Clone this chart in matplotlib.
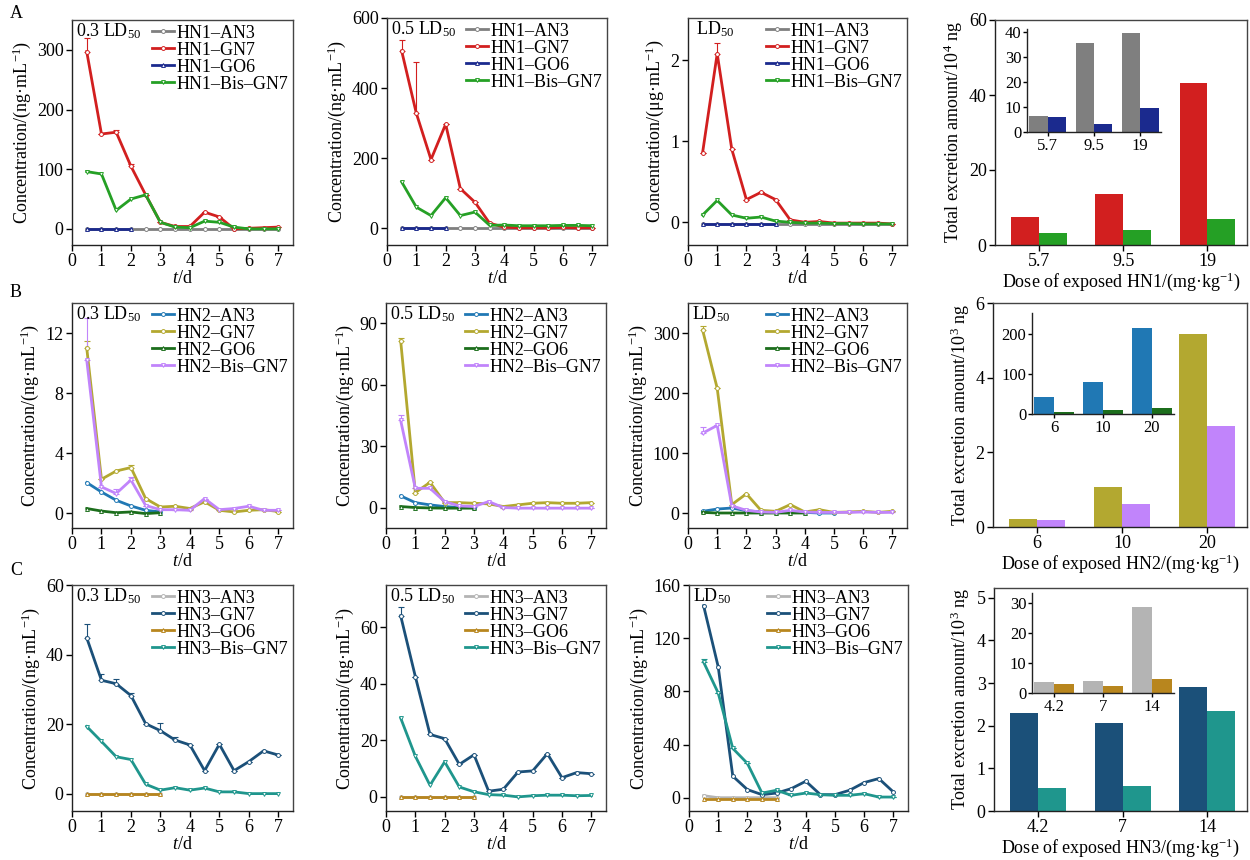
import matplotlib
matplotlib.use("Agg")
import numpy as np
import matplotlib.pyplot as plt

plt.rcParams["font.family"] = ["Liberation Serif", "DejaVu Serif"]
plt.rcParams["mathtext.fontset"] = "custom"
plt.rcParams["mathtext.rm"] = "Liberation Serif"
plt.rcParams["mathtext.it"] = "Liberation Serif:italic"
plt.rcParams["font.size"] = 13
plt.rcParams["axes.linewidth"] = 1.0
plt.rcParams["axes.edgecolor"] = "#222222"

# ---- sampling times (d) ----
T = [0.5, 1.0, 1.5, 2.0, 2.5, 3.0, 3.5, 4.0, 4.5, 5.0, 5.5, 6.0, 6.5, 7.0]

# ---- HN1 (row A) ----
a1_an3 = [0, 0, 0, 0, 0, 0, 0, 0, 0, 0, 0, 0, 0, 0]
a1_gn7 = [297, 159, 162, 105, 57, 11, 4, 4, 28, 20, 0, 1, 2, 3]
a1_gn7_err = [23, 0, 4, 3, 0, 0, 0, 0, 0, 0, 0, 0, 0, 0]
a1_go6 = [0, 0, 0, 0]
a1_bis = [96, 92, 31, 50, 57, 11, 3, 2, 13, 11, 3, 0, 0, 0]

a2_an3 = [0, 0, 0, 0, 0, 0, 0, 0, 0, 0, 0, 0, 0, 0]
a2_gn7 = [506, 328, 196, 297, 113, 74, 14, 3, 1, 1, 1, 2, 1, 1]
a2_gn7_err = [30, 146, 0, 0, 0, 0, 0, 0, 0, 0, 0, 0, 0, 0]
a2_go6 = [0, 0, 0, 0]
a2_bis = [132, 60, 36, 87, 36, 46, 8, 9, 7, 7, 7, 8, 8, 7]

a3_an3 = [-0.02, -0.02, -0.02, -0.02, -0.02, -0.02, -0.02, -0.02, -0.02, -0.02, -0.02, -0.02, -0.02, -0.02]
a3_gn7 = [0.86, 2.08, 0.90, 0.28, 0.37, 0.28, 0.03, 0.0, 0.01, -0.01, -0.01, -0.01, -0.01, -0.02]
a3_gn7_err = [0, 0.13, 0, 0, 0, 0, 0, 0, 0, 0, 0, 0, 0, 0]
a3_go6 = [-0.025, -0.025, -0.025, -0.025, -0.025, -0.025]
a3_bis = [0.09, 0.27, 0.09, 0.05, 0.065, 0.015, 0.0, -0.01, -0.01, -0.015, -0.015, -0.02, -0.02, -0.02]

hn1_doses = ["5.7", "9.5", "19"]
hn1_gn7_tot = [7.5, 13.6, 43.3]
hn1_bis_tot = [3.2, 4.0, 6.9]
hn1_an3_tot = [6.4, 35.6, 39.6]
hn1_go6_tot = [6.0, 3.2, 9.6]

# ---- HN2 (row B) ----
b1_an3 = [2.03, 1.4, 0.85, 0.47, 0.18, 0.07]
b1_gn7 = [11.0, 2.25, 2.8, 3.03, 0.96, 0.4, 0.45, 0.3, 0.75, 0.18, 0.07, 0.18, 0.22, 0.1]
b1_gn7_err = [0.5, 0, 0, 0.2, 0, 0, 0, 0, 0, 0, 0, 0, 0, 0]
b1_go6 = [0.3, 0.13, 0.02, 0.07, -0.04, 0.02]
b1_bis = [10.2, 1.74, 1.3, 2.2, 0.5, 0.22, 0.22, 0.18, 0.96, 0.22, 0.3, 0.45, 0.18, 0.18]
b1_bis_err = [2.8, 0, 0.3, 0.2, 0, 0, 0, 0, 0, 0, 0, 0, 0, 0]

b2_an3 = [5.7, 2.4, 1.3, 0.5, 0.0, 0.0]
b2_gn7 = [81.5, 7.3, 12.3, 2.4, 2.4, 2.1, 1.8, 0.5, 1.3, 2.1, 2.4, 2.1, 2.1, 2.4]
b2_gn7_err = [1.5, 0, 0, 0, 0, 0, 0, 0, 0, 0, 0, 0, 0, 0]
b2_go6 = [0.5, 0.0, -0.2, -0.3, -0.3, -0.3]
b2_bis = [42.6, 9.4, 9.4, 2.9, 0.8, 0.5, 2.9, 0.0, -0.3, -0.3, -0.3, -0.3, -0.3, -0.3]
b2_bis_err = [2.5, 0, 0, 0, 0, 0, 0, 0, 0, 0, 0, 0, 0, 0]

b3_an3 = [2.8, 6.6, 8.3, 3.9, 1.7, 1.0, 1.0, 1.0, 0.0, 0.0]
b3_gn7 = [305, 208, 14, 32, 4.4, 2.8, 14, 1.7, 5.5, 1, 1.7, 2.8, 1, 2.8]
b3_gn7_err = [7, 0, 0, 0, 0, 0, 0, 0, 0, 0, 0, 0, 0, 0]
b3_go6 = [1, 0, 0, 0, 0, 0, 0, 0]
b3_bis = [133, 146, 12, 4.4, 1.7, 1, 4.4, 1.7, 1, 1, 1, 1.7, 1, 1]
b3_bis_err = [10, 0, 0, 0, 0, 0, 0, 0, 0, 0, 0, 0, 0, 0]

hn2_doses = ["6", "10", "20"]
hn2_gn7_tot = [0.21, 1.07, 5.17]
hn2_bis_tot = [0.18, 0.62, 2.70]
hn2_an3_tot = [43, 80, 215]
hn2_go6_tot = [5, 9, 15]

# ---- HN3 (row C) ----
c1_an3 = [0, 0, 0, 0, 0, 0]
c1_gn7 = [44.8, 32.6, 31.6, 28.2, 20.1, 18.1, 15.4, 14.0, 6.6, 14.2, 6.6, 9.2, 12.3, 11.1]
c1_gn7_err = [4.1, 1.8, 1.4, 0.8, 0, 2.2, 1.0, 0, 0, 0, 0, 0, 0, 0]
c1_go6 = [-0.2, -0.2, -0.2, -0.2, -0.2, -0.2]
c1_bis = [19.3, 15.0, 10.6, 9.8, 2.7, 1.0, 1.7, 1.0, 1.6, 0.5, 0.5, 0, 0, 0]

c2_an3 = [0, 0, 0, 0, 0, 0]
c2_gn7 = [64.1, 42.6, 22.1, 20.6, 11.5, 14.9, 2.0, 2.7, 8.8, 9.2, 15.3, 6.8, 8.6, 8.2]
c2_gn7_err = [3.2, 0, 0, 0, 0, 0, 0, 0, 0, 0, 0, 0, 0, 0]
c2_go6 = [0, 0, 0, 0, 0, 0]
c2_bis = [27.9, 14.4, 4.1, 12.4, 3.5, 1.8, 0.8, 0.6, 0.0, 0.4, 0.6, 0.6, 0.4, 0.5]

c3_an3 = [1.5, 0, 0, 0, 0, 0]
c3_gn7 = [144.4, 98.5, 16.2, 6.1, 2.3, 3.5, 6.8, 12.4, 2.3, 2.3, 5.6, 11.4, 14.4, 4.3]
c3_go6 = [-0.8, -0.8, -0.8, -0.8, -0.8, -0.8]
c3_bis = [102, 78.8, 37.1, 25.8, 3.5, 5.6, 1.8, 3.5, 2.3, 1.8, 1.8, 3.0, 0.5, 0.5]
c3_bis_err = [2.5, 0, 0, 0, 0, 0, 0, 0, 0, 0, 0, 0, 0, 0]

hn3_doses = ["4.2", "7", "14"]
hn3_gn7_tot = [2.29, 2.06, 2.90]
hn3_bis_tot = [0.55, 0.58, 2.34]
hn3_an3_tot = [3.7, 4.0, 28.7]
hn3_go6_tot = [3.0, 2.2, 4.8]

# ---- colours ----
COL = {
    "HN1": ["#7f7f7f", "#d21f1f", "#1b2a8e", "#25a025"],
    "HN2": ["#2078b4", "#b3a830", "#1c6e1c", "#c184fb"],
    "HN3": ["#b4b4b4", "#1b5079", "#b8861e", "#1f968d"],
}
MARK = ["o", "o", "^", "v"]
SUFFIX = ["AN3", "GN7", "GO6", "Bis\u2013GN7"]

W, H = 1250, 860
fig = plt.figure(figsize=(12.5, 8.6), dpi=100)


def box(l, t, r, b):
    return [l / W, 1 - b / H, (r - l) / W, (b - t) / H]


def style(ax):
    ax.tick_params(direction="out", length=4, width=1, labelsize=13, pad=2,
                   top=False, right=False)
    for s in ["top", "right"]:
        ax.spines[s].set_color("#444444")


def line_panel(rect, agent, series, errs, ylim, yticks, ylabel, dose):
    ax = fig.add_axes(box(*rect))
    for i, y in enumerate(series):
        c = COL[agent][i]
        x = T[:len(y)]
        ax.plot(x, y, color=c, lw=2, marker=MARK[i], ms=2.8, mfc="white",
                mew=0.7, label=f"{agent}\u2013{SUFFIX[i]}", zorder=3 + i)
        e = errs[i]
        if e is not None:
            ax.errorbar(x, y, yerr=[np.zeros(len(e)), e], fmt="none", ecolor=c,
                        elinewidth=0.8, capsize=2.5, capthick=0.8, zorder=2)
    ax.set_xlim(0, 7.5)
    ax.set_xticks(range(8))
    ax.set_ylim(*ylim)
    ax.set_yticks(yticks)
    ax.set_xlabel("$t$/d", labelpad=0)
    ax.set_ylabel(ylabel, labelpad=3)
    style(ax)
    ax.legend(loc="upper right", frameon=False, fontsize=13, handlelength=1.2,
              handletextpad=0.15, labelspacing=0.0, borderaxespad=0.15,
              borderpad=0.1)
    ax.text(0.02, 0.995, dose, transform=ax.transAxes, va="top", ha="left",
            fontsize=13)
    return ax


def bar_panel(rect, agent, doses, v1, v2, ylim, yticks, ylabel, xlabel,
              irect, i1, i2, iylim, iyticks):
    c = COL[agent]
    ax = fig.add_axes(box(*rect))
    x = np.arange(len(doses))
    w = 0.33
    ax.bar(x - w / 2, v1, w, color=c[1])
    ax.bar(x + w / 2, v2, w, color=c[3])
    ax.set_xlim(-0.52, 2.47)
    ax.set_xticks(x, doses)
    ax.set_ylim(*ylim)
    ax.set_yticks(yticks)
    ax.set_ylabel(ylabel, labelpad=3)
    ax.set_xlabel(xlabel, labelpad=0)
    style(ax)

    ins = fig.add_axes(box(*irect))
    ins.patch.set_alpha(0)
    wi = 0.4
    ins.bar(x - wi / 2, i1, wi, color=c[0])
    ins.bar(x + wi / 2, i2, wi, color=c[2])
    ins.set_xlim(-0.45, 2.45)
    ins.set_xticks(x, doses)
    ins.set_ylim(*iylim)
    ins.set_yticks(iyticks)
    ins.spines["top"].set_visible(False)
    ins.spines["right"].set_visible(False)
    ins.tick_params(direction="out", length=3, width=1, labelsize=12, pad=1)
    return ax


conc_ng = "Concentration/(ng\u00b7mL$^{-1}$)"
conc_ug = "Concentration/(\u03bcg\u00b7mL$^{-1}$)"

# row A
line_panel((72, 20, 293, 245), "HN1", [a1_an3, a1_gn7, a1_go6, a1_bis],
           [None, a1_gn7_err, None, None], (-27, 350), [0, 100, 200, 300],
           conc_ng, "0.3 LD$_{50}$")
line_panel((387, 18, 607, 245), "HN1", [a2_an3, a2_gn7, a2_go6, a2_bis],
           [None, a2_gn7_err, None, None], (-48, 600), [0, 200, 400, 600],
           conc_ng, "0.5 LD$_{50}$")
line_panel((688, 18, 907, 245), "HN1", [a3_an3, a3_gn7, a3_go6, a3_bis],
           [None, a3_gn7_err, None, None], (-0.28, 2.52), [0, 1, 2],
           conc_ug, " LD$_{50}$")
bar_panel((995, 20, 1247, 245), "HN1", hn1_doses, hn1_gn7_tot, hn1_bis_tot,
          (0, 60), [0, 20, 40, 60], "Total excretion amount/10$^4$ ng",
          "Dose of exposed HN1/(mg\u00b7kg$^{-1}$)",
          (1027, 29, 1161, 132), hn1_an3_tot, hn1_go6_tot, (0, 41),
          [0, 10, 20, 30, 40])

# row B
line_panel((72, 303, 293, 528), "HN2", [b1_an3, b1_gn7, b1_go6, b1_bis],
           [None, b1_gn7_err, None, b1_bis_err], (-1, 14), [0, 4, 8, 12],
           conc_ng, "0.3 LD$_{50}$")
line_panel((386, 303, 606, 528), "HN2", [b2_an3, b2_gn7, b2_go6, b2_bis],
           [None, b2_gn7_err, None, b2_bis_err], (-10, 100), [0, 30, 60, 90],
           conc_ng, "0.5 LD$_{50}$")
line_panel((688, 303, 907, 528), "HN2", [b3_an3, b3_gn7, b3_go6, b3_bis],
           [None, b3_gn7_err, None, b3_bis_err], (-25, 350), [0, 100, 200, 300],
           conc_ng, "LD$_{50}$")
bar_panel((993, 303, 1247, 527), "HN2", hn2_doses, hn2_gn7_tot, hn2_bis_tot,
          (0, 6), [0, 2, 4, 6], "Total excretion amount/10$^3$ ng",
          "Dose of exposed HN2/(mg\u00b7kg$^{-1}$)",
          (1032, 313, 1174, 414), hn2_an3_tot, hn2_go6_tot, (0, 252),
          [0, 100, 200])

# row C
line_panel((72, 585, 293, 811), "HN3", [c1_an3, c1_gn7, c1_go6, c1_bis],
           [None, c1_gn7_err, None, None], (-5, 60), [0, 20, 40, 60],
           conc_ng, "0.3 LD$_{50}$")
line_panel((386, 585, 606, 811), "HN3", [c2_an3, c2_gn7, c2_go6, c2_bis],
           [None, c2_gn7_err, None, None], (-5, 75), [0, 20, 40, 60],
           conc_ng, "0.5 LD$_{50}$")
line_panel((689, 585, 908, 811), "HN3", [c3_an3, c3_gn7, c3_go6, c3_bis],
           [None, None, None, c3_bis_err], (-10, 160), [0, 40, 80, 120, 160],
           conc_ng, "LD$_{50}$")
bar_panel((994, 588, 1247, 811), "HN3", hn3_doses, hn3_gn7_tot, hn3_bis_tot,
          (0, 5.23), [0, 1, 2, 3, 4, 5], "Total excretion amount/10$^3$ ng",
          "Dose of exposed HN3/(mg\u00b7kg$^{-1}$)",
          (1032, 593, 1174, 693), hn3_an3_tot, hn3_go6_tot, (0, 33.3),
          [0, 10, 20, 30])

for letter, yy in [("A", 5), ("B", 284), ("C", 562)]:
    fig.text(10 / W, 1 - yy / H, letter, va="top", ha="left", fontsize=13)

fig.savefig("out.png", dpi=100)
